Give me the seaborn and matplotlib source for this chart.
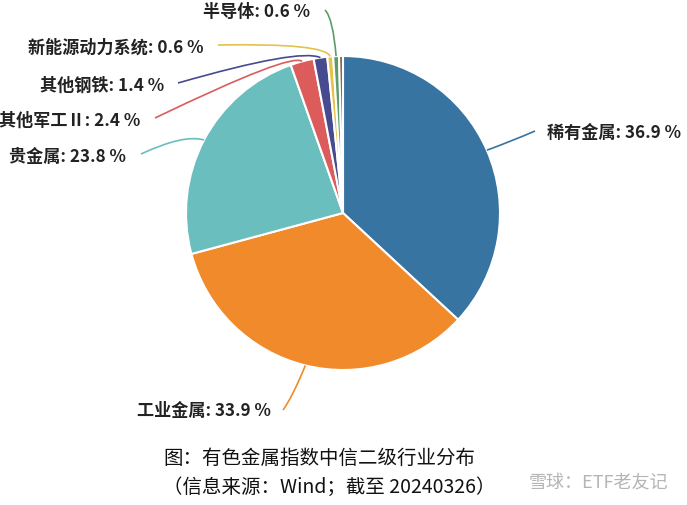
import matplotlib
matplotlib.use("Agg")
import matplotlib.pyplot as plt
import seaborn as sns
import numpy as np
from matplotlib.path import Path
from matplotlib.patches import PathPatch

sns.set_theme(style="white")
plt.rcParams['font.family'] = ['Noto Sans CJK SC', 'DejaVu Sans']

categories = ["稀有金属", "工业金属", "贵金属", "其他军工Ⅱ", "其他钢铁", "新能源动力系统", "半导体", "其他"]
values = [36.9, 33.9, 23.8, 2.4, 1.4, 0.6, 0.6, 0.4]
show_label = [True, True, True, True, True, True, True, False]
colors = sns.color_palette(["#3774A2", "#F08A2B", "#6BBEBE", "#DC5C5C", "#474A8E", "#E4C24C", "#5C9C6B", "#8D5B3D"])

W, H = 687, 505
fig = plt.figure(figsize=(W / 100, H / 100), dpi=100)
ax = fig.add_axes([0, 0, 1, 1])

cx, cy, R = 343, H - 213, 157
wedges, _ = ax.pie(values, colors=colors, startangle=90, counterclock=False,
                   center=(cx, cy), radius=R, frame=True,
                   wedgeprops=dict(edgecolor='white', linewidth=1.5))
ax.set_xlim(0, W)
ax.set_ylim(0, H)
ax.set_aspect('equal')
ax.axis('off')

# label layout: (bend point, end point, text anchor x, text y, ha) in pixel coords (y down)
layout = [
    ((512, 141), (535, 131), 547, 133, 'left'),
    ((292, 398), (283, 410), 271, 411, 'right'),
    ((184, 134), (141, 154), 126, 157, 'right'),
    ((292, 52), (155, 118), 140, 121, 'right'),
    ((300, 48), (178, 83), 164, 86, 'right'),
    ((326, 43), (218, 45), 203, 48, 'right'),
    ((333, 18), (325, 10), 310, 12, 'right'),
]

for i, (w, lab, v) in enumerate(zip(wedges, categories, values)):
    if not show_label[i]:
        continue
    ang = np.deg2rad((w.theta1 + w.theta2) / 2)
    sx, sy = cx + R * np.cos(ang), cy + R * np.sin(ang)
    (bx, by), (ex, ey), tx, ty, ha = layout[i]
    path = Path([(sx, sy), (bx, H - by), (ex, H - ey)], [Path.MOVETO, Path.CURVE3, Path.CURVE3])
    ax.add_patch(PathPatch(path, facecolor='none', edgecolor=colors[i], lw=1.2))
    ax.text(tx, H - ty, f"{lab}: {v:.1f} %", ha=ha, va='center', fontsize=12.3,
            fontweight='bold', color='#222222')

ax.text(163, H - 458, "图：有色金属指数中信二级行业分布", ha='left', va='center',
        fontsize=14, color='#111111')
ax.text(163, H - 487, "（信息来源：Wind；截至 20240326）", ha='left', va='center',
        fontsize=14, color='#111111')
ax.text(668, H - 483, "雪球：ETF老友记", ha='right', va='center', fontsize=13,
        color='#B5B5B5')

fig.savefig("out.png", dpi=100)
